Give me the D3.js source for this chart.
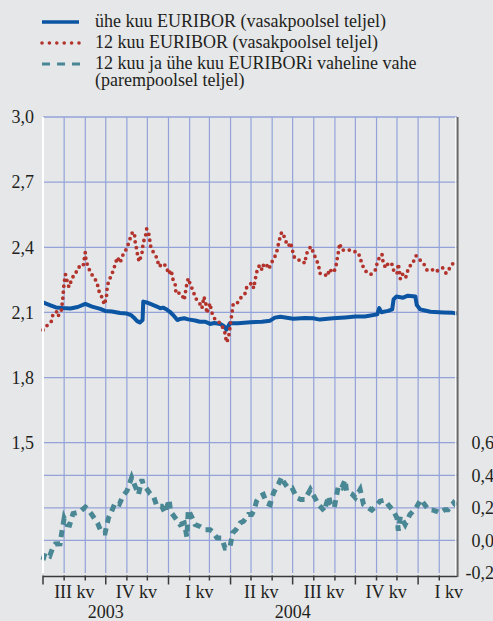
<!DOCTYPE html>
<html><head><meta charset="utf-8">
<script src="https://cdn.jsdelivr.net/npm/d3@7"></script>
<style>
html,body{margin:0;padding:0;background:#e6e7e9;}
svg{display:block;}
</style></head><body>
<svg id="chart" width="493" height="621"></svg>
<script>
// ---- data ----
const oneMonthDates = ["2003-07-01","2003-07-11","2003-07-20","2003-07-30","2003-08-10","2003-08-21","2003-09-01","2003-09-11","2003-09-23","2003-09-30","2003-10-10","2003-10-22","2003-11-01","2003-11-07","2003-11-11","2003-11-16","2003-11-20","2003-11-24","2003-11-25","2003-11-30","2003-12-08","2003-12-15","2003-12-20","2003-12-24","2003-12-28","2004-01-03","2004-01-09","2004-01-14","2004-01-18","2004-01-24","2004-01-30","2004-02-09","2004-02-16","2004-02-24","2004-03-02","2004-03-08","2004-03-17","2004-03-22","2004-03-26","2004-03-28","2004-03-31","2004-04-12","2004-04-30","2004-05-17","2004-05-29","2004-06-05","2004-06-13","2004-07-02","2004-07-19","2004-07-31","2004-08-10","2004-08-29","2004-09-16","2004-10-01","2004-10-15","2004-11-02","2004-11-05","2004-11-08","2004-11-18","2004-11-24","2004-11-26","2004-11-30","2004-12-10","2004-12-17","2004-12-28","2004-12-30","2005-01-04","2005-01-11","2005-01-19","2005-02-07","2005-02-21","2005-02-27"];
const oneMonthValues = [2.146,2.134,2.123,2.120,2.118,2.125,2.139,2.127,2.116,2.107,2.104,2.097,2.095,2.088,2.077,2.060,2.054,2.065,2.150,2.146,2.136,2.127,2.119,2.122,2.116,2.103,2.084,2.065,2.070,2.073,2.068,2.063,2.057,2.057,2.047,2.051,2.047,2.038,2.021,2.033,2.050,2.050,2.055,2.057,2.062,2.076,2.080,2.071,2.074,2.073,2.067,2.073,2.077,2.081,2.081,2.091,2.120,2.101,2.107,2.114,2.160,2.173,2.168,2.177,2.173,2.134,2.114,2.109,2.103,2.100,2.098,2.095];

const twelveMonthDates = ["2003-07-01","2003-07-07","2003-07-13","2003-07-16","2003-07-21","2003-07-23","2003-07-28","2003-07-30","2003-07-31","2003-08-01","2003-08-03","2003-08-05","2003-08-08","2003-08-12","2003-08-17","2003-08-20","2003-08-24","2003-08-29","2003-09-01","2003-09-02","2003-09-05","2003-09-09","2003-09-12","2003-09-18","2003-09-21","2003-09-25","2003-09-29","2003-10-02","2003-10-03","2003-10-05","2003-10-10","2003-10-14","2003-10-18","2003-10-22","2003-10-27","2003-11-01","2003-11-05","2003-11-09","2003-11-12","2003-11-13","2003-11-15","2003-11-17","2003-11-19","2003-11-23","2003-11-25","2003-11-28","2003-11-30","2003-12-03","2003-12-06","2003-12-09","2003-12-15","2003-12-18","2003-12-24","2003-12-29","2004-01-01","2004-01-05","2004-01-07","2004-01-11","2004-01-12","2004-01-18","2004-01-22","2004-01-24","2004-01-26","2004-01-28","2004-01-30","2004-02-03","2004-02-06","2004-02-09","2004-02-16","2004-02-19","2004-02-22","2004-02-25","2004-02-26","2004-03-02","2004-03-04","2004-03-09","2004-03-14","2004-03-20","2004-03-24","2004-03-26","2004-03-29","2004-03-31","2004-04-03","2004-04-05","2004-04-12","2004-04-17","2004-04-22","2004-04-25","2004-04-27","2004-05-02","2004-05-05","2004-05-07","2004-05-09","2004-05-12","2004-05-15","2004-05-17","2004-05-20","2004-05-24","2004-05-27","2004-06-02","2004-06-07","2004-06-10","2004-06-13","2004-06-15","2004-06-19","2004-06-23","2004-06-25","2004-06-28","2004-07-03","2004-07-08","2004-07-14","2004-07-19","2004-07-21","2004-07-26","2004-07-28","2004-08-02","2004-08-04","2004-08-08","2004-08-10","2004-08-15","2004-08-21","2004-08-24","2004-08-29","2004-09-02","2004-09-04","2004-09-06","2004-09-08","2004-09-11","2004-09-17","2004-09-23","2004-09-28","2004-10-03","2004-10-08","2004-10-10","2004-10-15","2004-10-19","2004-10-24","2004-10-31","2004-11-02","2004-11-06","2004-11-09","2004-11-11","2004-11-15","2004-11-18","2004-11-23","2004-11-26","2004-12-01","2004-12-03","2004-12-06","2004-12-10","2004-12-14","2004-12-17","2004-12-22","2004-12-24","2004-12-29","2005-01-02","2005-01-06","2005-01-10","2005-01-14","2005-01-21","2005-01-26","2005-01-31","2005-02-06","2005-02-11","2005-02-17","2005-02-22","2005-02-27"];
const twelveMonthValues = [2.019,2.040,2.057,2.096,2.103,2.082,2.111,2.162,2.203,2.237,2.275,2.249,2.217,2.251,2.284,2.288,2.316,2.316,2.376,2.341,2.311,2.282,2.268,2.240,2.199,2.172,2.136,2.172,2.211,2.242,2.276,2.313,2.354,2.329,2.372,2.395,2.434,2.468,2.468,2.429,2.395,2.359,2.334,2.370,2.424,2.446,2.485,2.464,2.403,2.382,2.351,2.311,2.326,2.311,2.277,2.295,2.257,2.226,2.186,2.190,2.172,2.157,2.196,2.234,2.257,2.219,2.203,2.169,2.140,2.119,2.172,2.137,2.096,2.142,2.103,2.069,2.060,2.034,2.004,1.962,1.982,2.027,2.096,2.142,2.146,2.172,2.185,2.219,2.222,2.236,2.211,2.249,2.282,2.311,2.318,2.295,2.326,2.318,2.300,2.341,2.369,2.412,2.452,2.470,2.447,2.410,2.406,2.422,2.357,2.341,2.341,2.326,2.368,2.397,2.403,2.362,2.349,2.318,2.280,2.280,2.266,2.300,2.283,2.302,2.341,2.376,2.418,2.387,2.387,2.387,2.380,2.380,2.357,2.326,2.295,2.280,2.276,2.298,2.330,2.358,2.368,2.323,2.305,2.326,2.328,2.295,2.278,2.324,2.253,2.280,2.263,2.295,2.324,2.326,2.361,2.345,2.336,2.320,2.295,2.299,2.286,2.295,2.305,2.280,2.307,2.330,2.337];

const spreadDates = ["2003-07-01","2003-07-04","2003-07-11","2003-07-16","2003-07-19","2003-07-26","2003-07-28","2003-08-01","2003-08-05","2003-08-09","2003-08-14","2003-08-20","2003-08-25","2003-09-01","2003-09-05","2003-09-10","2003-09-19","2003-09-25","2003-09-30","2003-10-05","2003-10-08","2003-10-15","2003-10-21","2003-10-26","2003-11-01","2003-11-08","2003-11-13","2003-11-18","2003-11-23","2003-11-25","2003-11-29","2003-12-05","2003-12-10","2003-12-15","2003-12-22","2003-12-27","2004-01-02","2004-01-04","2004-01-11","2004-01-18","2004-01-24","2004-01-28","2004-01-30","2004-02-06","2004-02-09","2004-02-16","2004-02-24","2004-03-02","2004-03-06","2004-03-12","2004-03-19","2004-03-24","2004-03-31","2004-04-04","2004-04-09","2004-04-15","2004-04-20","2004-04-27","2004-05-02","2004-05-06","2004-05-09","2004-05-14","2004-05-19","2004-05-24","2004-05-29","2004-06-03","2004-06-10","2004-06-15","2004-06-17","2004-06-24","2004-06-30","2004-07-07","2004-07-13","2004-07-19","2004-07-27","2004-07-31","2004-08-08","2004-08-17","2004-08-19","2004-08-23","2004-08-25","2004-08-31","2004-09-06","2004-09-11","2004-09-16","2004-09-18","2004-09-26","2004-10-01","2004-10-08","2004-10-13","2004-10-20","2004-10-25","2004-10-31","2004-11-06","2004-11-13","2004-11-18","2004-11-26","2004-12-01","2004-12-03","2004-12-06","2004-12-13","2004-12-20","2004-12-29","2005-01-05","2005-01-11","2005-01-16","2005-01-23","2005-01-28","2005-02-02","2005-02-09","2005-02-14","2005-02-22","2005-02-26"];
const spreadValues = [-0.120,-0.078,-0.095,-0.037,-0.022,-0.021,0.035,0.136,0.097,0.094,0.165,0.171,0.179,0.205,0.189,0.162,0.107,0.045,0.045,0.138,0.163,0.233,0.223,0.272,0.303,0.387,0.333,0.282,0.375,0.344,0.324,0.287,0.272,0.210,0.210,0.169,0.251,0.177,0.138,0.097,0.107,0.022,0.189,0.128,0.097,0.086,0.066,0.066,0.052,0.016,0.015,-0.047,-0.044,0.047,0.066,0.107,0.117,0.159,0.159,0.190,0.241,0.272,0.282,0.228,0.220,0.293,0.344,0.390,0.364,0.324,0.324,0.262,0.251,0.251,0.313,0.282,0.220,0.179,0.220,0.272,0.231,0.200,0.334,0.324,0.372,0.303,0.285,0.262,0.313,0.220,0.200,0.186,0.210,0.241,0.248,0.220,0.179,0.138,0.060,0.148,0.097,0.159,0.200,0.251,0.217,0.189,0.186,0.179,0.169,0.189,0.189,0.231,0.214];

const leftTicks = [1.5, 1.8, 2.1, 2.4, 2.7, 3.0];
const rightTicks = [-0.2, 0.0, 0.2, 0.4, 0.6];
const quarterLabels = ["III kv","IV kv","I kv","II kv","III kv","IV kv","I kv"];
const quarterMidDates = ["2003-08-16","2003-11-15","2004-02-15","2004-05-16","2004-08-16","2004-11-15","2005-02-15"];
const yearLabels = ["2003","2004"];
const yearMidDates = ["2003-10-01","2004-07-01"];
const legendLabels = [["ühe kuu EURIBOR (vasakpoolsel teljel)"],["12 kuu EURIBOR (vasakpoolsel teljel)"],["12 kuu ja ühe kuu EURIBORi vaheline vahe","(parempoolsel teljel)"]];

// ---- drawing ----
const FONT = '"Times New Roman"';
const FS = 18;
const parse = d3.timeParse("%Y-%m-%d");
const zip = (ds, vs) => ds.map((d,i)=>({date:parse(d), v:vs[i]}));
const oneMonth = zip(oneMonthDates, oneMonthValues);
const twelveMonth = zip(twelveMonthDates, twelveMonthValues);
const spread = zip(spreadDates, spreadValues);

const L = 43, R = 457, T = 117, B = 573;
const x = d3.scaleTime().domain([parse("2003-07-01"), parse("2005-02-27")]).range([L, R]);
const yL = d3.scaleLinear().domain([0.9, 3.0]).range([B, T]);
const yR = d3.scaleLinear().domain([-0.2, 2.6]).range([B, T]);
const fmt = d => (d < 0 ? "-" : "") + Math.abs(d).toFixed(1).replace(".", ",");

const COL_BLUE = "#0b55a3", COL_RED = "#b2332c", COL_TEAL = "#4a8795", COL_GRID = "#93a3d9", COL_TEXT = "#231f20";
const svg = d3.select("#chart");
svg.append("rect").attr("width",493).attr("height",621).attr("fill","#e6e7e9");

// grid
const grid = svg.append("g");
const months = d3.timeMonth.range(parse("2003-08-01"), parse("2005-03-01"));
grid.selectAll("line.v").data(months).join("line")
  .attr("x1", d=>x(d)).attr("x2", d=>x(d)).attr("y1", T).attr("y2", B)
  .attr("stroke", COL_GRID).attr("stroke-width", 1.2);
grid.selectAll("line.hl").data(leftTicks).join("line").attr("class","hl")
  .attr("x1", L).attr("x2", R).attr("y1", d=>yL(d)).attr("y2", d=>yL(d))
  .attr("stroke", COL_GRID).attr("stroke-width", 1.3);
grid.selectAll("line.hr").data(rightTicks.filter(d=>d>-0.2 && d<0.6)).join("line").attr("class","hr")
  .attr("x1", L).attr("x2", R).attr("y1", d=>yR(d)).attr("y2", d=>yR(d))
  .attr("stroke", COL_GRID).attr("stroke-width", 1.3);

// series
const lineL = d3.line().x(d=>x(d.date)).y(d=>yL(d.v));
const lineR = d3.line().x(d=>x(d.date)).y(d=>yR(d.v));
svg.append("path").datum(spread).attr("d", lineR).attr("fill","none")
  .attr("stroke", COL_TEAL).attr("stroke-width", 5).attr("stroke-dasharray","7,5.5");
svg.append("path").datum(oneMonth).attr("d", lineL).attr("fill","none")
  .attr("stroke", COL_BLUE).attr("stroke-width", 4).attr("stroke-linejoin","round");
svg.append("path").datum(twelveMonth).attr("d", lineL).attr("fill","none")
  .attr("stroke", COL_RED).attr("stroke-width", 3.8).attr("stroke-linecap","round")
  .attr("stroke-dasharray","0,6");

// frame
svg.append("line").attr("x1",L).attr("x2",L).attr("y1",T).attr("y2",B)
  .attr("stroke","#ffffff").attr("stroke-width",2);
svg.append("line").attr("x1",R-1.2).attr("x2",R-1.2).attr("y1",T).attr("y2",B+4)
  .attr("stroke","#ffffff").attr("stroke-width",1.2);
svg.append("line").attr("x1",R+0.6).attr("x2",R+0.6).attr("y1",T).attr("y2",B+4)
  .attr("stroke","#6b6b6b").attr("stroke-width",2);

// left axis
const axL = svg.append("g").attr("transform",`translate(${L},0)`)
  .call(d3.axisLeft(yL).tickValues(leftTicks).tickSize(0).tickPadding(9).tickFormat(fmt));
axL.style("font-family", FONT).attr("font-size", FS);
axL.select(".domain").remove();
axL.selectAll("text").attr("fill", COL_TEXT).style("font-family", FONT);

// right axis
const axR = svg.append("g").attr("transform",`translate(${R},0)`)
  .call(d3.axisRight(yR).tickValues(rightTicks).tickSize(0).tickFormat(fmt));
axR.style("font-family", FONT).attr("font-size", FS);
axR.select(".domain").remove();
axR.selectAll("text").attr("fill", COL_TEXT).style("font-family", FONT).attr("text-anchor","end").attr("x", 37);

// bottom axis
const quarterStarts = new Set(["2003-07","2003-10","2004-01","2004-04","2004-07","2004-10","2005-01"]);
const tickMonths = d3.timeMonth.range(parse("2003-07-01"), parse("2005-03-01"));
const axB = svg.append("g").attr("transform",`translate(0,${B+3.5})`)
  .style("font-family", FONT).attr("font-size", FS);
axB.append("line").attr("x1",L).attr("x2",R).attr("stroke","#3a3a3a").attr("stroke-width",1.5);
axB.selectAll("line.t").data(tickMonths).join("line").attr("class","t")
  .attr("x1", d=>x(d)).attr("x2", d=>x(d)).attr("y1", -1)
  .attr("y2", d=> quarterStarts.has(d3.timeFormat("%Y-%m")(d)) ? 8 : 4)
  .attr("stroke","#3a3a3a").attr("stroke-width",1.5);
axB.selectAll("text.q").data(quarterLabels).join("text").attr("class","q")
  .attr("x", (d,i)=>x(parse(quarterMidDates[i]))).attr("y", 21.5)
  .attr("text-anchor","middle").attr("fill", COL_TEXT).style("font-family", FONT).text(d=>d);
axB.selectAll("text.y").data(yearLabels).join("text").attr("class","y")
  .attr("x", (d,i)=>x(parse(yearMidDates[i]))).attr("y", 41.5)
  .attr("text-anchor","middle").attr("fill", COL_TEXT).style("font-family", FONT).text(d=>d);

// legend
const lg = svg.append("g").style("font-family", FONT).attr("font-size", FS);
const ly = [22, 43, 64];
lg.append("line").attr("x1",42).attr("x2",79).attr("y1",ly[0]).attr("y2",ly[0])
  .attr("stroke",COL_BLUE).attr("stroke-width",3.5);
lg.append("line").attr("x1",42).attr("x2",80).attr("y1",ly[1]).attr("y2",ly[1])
  .attr("stroke",COL_RED).attr("stroke-width",3.6).attr("stroke-linecap","round").attr("stroke-dasharray","0,7.4");
lg.append("line").attr("x1",42).attr("x2",80).attr("y1",ly[2]).attr("y2",ly[2])
  .attr("stroke",COL_TEAL).attr("stroke-width",3.2).attr("stroke-dasharray","8,7");
legendLabels.forEach((lines,i)=>{
  const t = lg.append("text").attr("x",95).attr("y",ly[i]+5.3).attr("fill", COL_TEXT).style("font-family", FONT);
  lines.forEach((s,j)=> t.append("tspan").attr("x",95).attr("dy", j===0?0:16.7).text(s));
});
</script>
</body></html>
